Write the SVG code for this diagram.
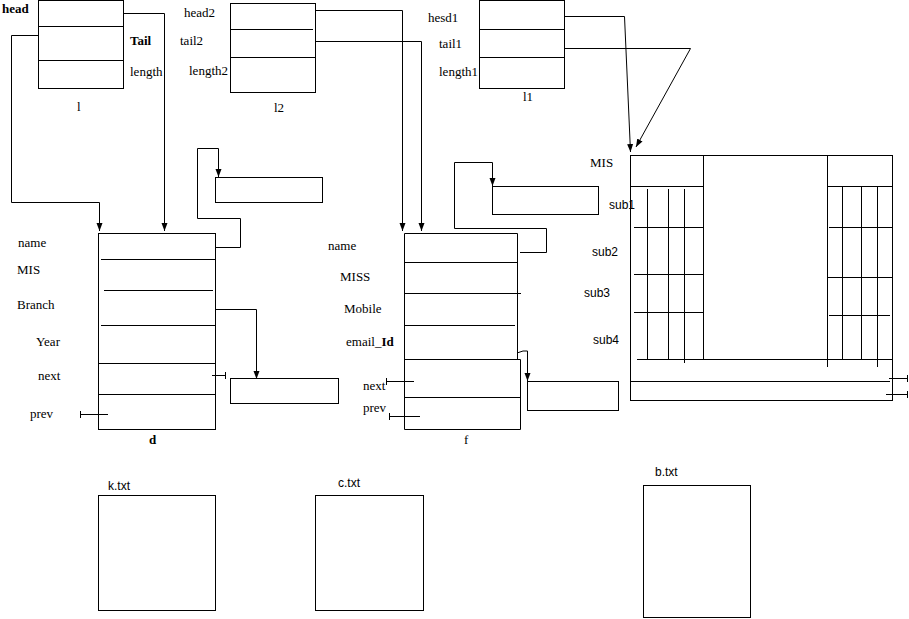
<svg xmlns="http://www.w3.org/2000/svg" width="909" height="619" viewBox="0 0 909 619">
<style>
.s{fill:none;stroke:#000;stroke-width:1}
.t{font-family:"Liberation Serif","Times New Roman",serif;font-size:13px;fill:#000}
.b{font-weight:bold}
.ss{font-family:"Liberation Sans",Arial,sans-serif;font-size:12px;fill:#000}
</style>
<defs>
<marker id="ah" viewBox="0 0 8 8" refX="8" refY="4" markerWidth="8" markerHeight="8" markerUnits="userSpaceOnUse" orient="auto">
<path d="M0,1 L8,4 L0,7 Z" fill="#000"/>
</marker>
</defs>
<rect width="909" height="619" fill="#fff"/>

<g id="l">
<rect class="s" x="38.5" y="0.5" width="85" height="88"/>
<line class="s" x1="38" y1="26.5" x2="123" y2="26.5"/>
<line class="s" x1="38" y1="60.5" x2="123" y2="60.5"/>
<text class="t b" x="2" y="13">head</text>
<text class="t b" x="130" y="45">Tail</text>
<text class="t" x="130" y="76">length</text>
<text class="t" x="77" y="111">l</text>
</g>

<g id="l2">
<rect class="s" x="230.5" y="3.5" width="85" height="89"/>
<line class="s" x1="230" y1="29.5" x2="313" y2="29.5"/>
<line class="s" x1="230" y1="57.5" x2="315" y2="57.5"/>
<text class="t" x="184" y="17">head2</text>
<text class="t" x="180" y="45">tail2</text>
<text class="t" x="189" y="75">length2</text>
<text class="t" x="274" y="112">l2</text>
</g>

<g id="l1">
<rect class="s" x="479.5" y="0.5" width="85" height="88"/>
<line class="s" x1="479" y1="29.5" x2="564" y2="29.5"/>
<line class="s" x1="479" y1="57.5" x2="564" y2="57.5"/>
<text class="t" x="428" y="22">hesd1</text>
<text class="t" x="439" y="48">tail1</text>
<text class="t" x="439" y="76">length1</text>
<text class="t" x="523" y="101">l1</text>
</g>

<g id="d">
<rect class="s" x="98.5" y="233.5" width="117" height="196"/>
<line class="s" x1="101" y1="259.5" x2="215" y2="259.5"/>
<line class="s" x1="104" y1="290.5" x2="213" y2="290.5"/>
<line class="s" x1="101" y1="325.5" x2="215" y2="325.5"/>
<line class="s" x1="98" y1="363.5" x2="215" y2="363.5"/>
<line class="s" x1="98" y1="394.5" x2="215" y2="394.5"/>
<text class="t" x="18" y="247">name</text>
<text class="t" x="17" y="274">MIS</text>
<text class="t" x="17" y="309">Branch</text>
<text class="t" x="36" y="346">Year</text>
<text class="t" x="38" y="380">next</text>
<text class="t" x="30" y="418">prev</text>
<text class="t b" x="149" y="444">d</text>
<path class="s" d="M212,375.5 H225.5 M225.5,372 V379"/>
<path class="s" d="M108,414.5 H80.5 M80.5,411 V418"/>
</g>

<g id="d-name-box">
<rect class="s" x="215.5" y="177.5" width="107" height="25"/>
</g>
<g id="d-branch-box">
<rect class="s" x="230.5" y="378.5" width="108" height="25"/>
</g>

<g id="f">
<path class="s" d="M517.5,359 V233.5 H404.5 V429.5 H520.5 V359.5 H404.5"/>
<line class="s" x1="404" y1="262.5" x2="517" y2="262.5"/>
<line class="s" x1="404" y1="293.5" x2="521" y2="293.5"/>
<line class="s" x1="404" y1="325.5" x2="515" y2="325.5"/>
<line class="s" x1="404" y1="397.5" x2="520" y2="397.5"/>
<text class="t" x="328" y="250">name</text>
<text class="t" x="340" y="281">MISS</text>
<text class="t" x="344" y="313">Mobile</text>
<text class="t" x="346" y="346">email_<tspan class="b">Id</tspan></text>
<text class="t" x="363" y="390">next</text>
<text class="t" x="363" y="412">prev</text>
<text class="t" x="464" y="444">f</text>
<path class="s" d="M414,381.5 H386.5 M386.5,378 V385"/>
<path class="s" d="M420,416.5 H389.5 M389.5,413 V420"/>
</g>

<g id="f-name-box">
<rect class="s" x="492.5" y="186.5" width="106" height="28"/>
</g>
<g id="f-email-box">
<rect class="s" x="527.5" y="381.5" width="91" height="29"/>
</g>

<g id="mis-table">
<rect class="s" x="630.5" y="155.5" width="262" height="245"/>
<line class="s" x1="703.5" y1="155" x2="703.5" y2="359"/>
<line class="s" x1="827.5" y1="155" x2="827.5" y2="367"/>
<line class="s" x1="630" y1="186.5" x2="703" y2="186.5"/>
<line class="s" x1="827" y1="186.5" x2="892" y2="186.5"/>
<line class="s" x1="647.5" y1="189" x2="647.5" y2="359"/>
<line class="s" x1="668.5" y1="189" x2="668.5" y2="359"/>
<line class="s" x1="684.5" y1="189" x2="684.5" y2="363"/>
<line class="s" x1="634" y1="227.5" x2="703" y2="227.5"/>
<line class="s" x1="634" y1="274.5" x2="703" y2="274.5"/>
<line class="s" x1="634" y1="312.5" x2="703" y2="312.5"/>
<line class="s" x1="842.5" y1="186" x2="842.5" y2="359"/>
<line class="s" x1="861.5" y1="186" x2="861.5" y2="359"/>
<line class="s" x1="877.5" y1="186" x2="877.5" y2="367"/>
<line class="s" x1="829" y1="227.5" x2="892" y2="227.5"/>
<line class="s" x1="827" y1="277.5" x2="892" y2="277.5"/>
<line class="s" x1="829" y1="315.5" x2="890" y2="315.5"/>
<line class="s" x1="637" y1="359.5" x2="892" y2="359.5"/>
<line class="s" x1="630" y1="381.5" x2="890" y2="381.5"/>
<path class="s" d="M889,378.5 H907.5 M907.5,375 V382"/>
<path class="s" d="M886,394.5 H907.5 M907.5,391 V398"/>
<text class="t" x="590" y="167">MIS</text>
<text class="ss" x="609" y="209">sub1</text>
<text class="ss" x="592" y="256">sub2</text>
<text class="ss" x="584" y="297">sub3</text>
<text class="ss" x="593" y="344">sub4</text>
</g>

<g id="k-txt">
<rect class="s" x="98.5" y="495.5" width="117" height="115"/>
<text class="ss" x="108" y="490">k.txt</text>
</g>
<g id="c-txt">
<rect class="s" x="315.5" y="495.5" width="108" height="115"/>
<text class="ss" x="338" y="487">c.txt</text>
</g>
<g id="b-txt">
<rect class="s" x="643.5" y="485.5" width="107" height="132"/>
<text class="ss" x="655" y="476">b.txt</text>
</g>

<g id="connectors">
<path class="s" d="M123,13.5 H164.5 V231" marker-end="url(#ah)"/>
<path class="s" d="M38,35.5 H11.5 V202.5 H99.5 V231" marker-end="url(#ah)"/>
<path class="s" d="M316,10.5 H402.5 V231" marker-end="url(#ah)"/>
<path class="s" d="M316,41.5 H421.5 V231" marker-end="url(#ah)"/>
<path class="s" d="M564,16.5 H624.5 L630.5,152" marker-end="url(#ah)"/>
<path class="s" d="M564,48.5 H690.5 L636,147" marker-end="url(#ah)"/>
<path class="s" d="M215,247.5 H240.5 V218.5 H197.5 V148.5 H218.5 V177" marker-end="url(#ah)"/>
<path class="s" d="M215,309.5 H256.5 V379" marker-end="url(#ah)"/>
<path class="s" d="M520,252.5 H546.5 V228.5 H454.5 V162.5 H492.5 V186" marker-end="url(#ah)"/>
<path class="s" d="M517,353 L523,351 H527.5 V381" marker-end="url(#ah)"/>
</g>
</svg>
